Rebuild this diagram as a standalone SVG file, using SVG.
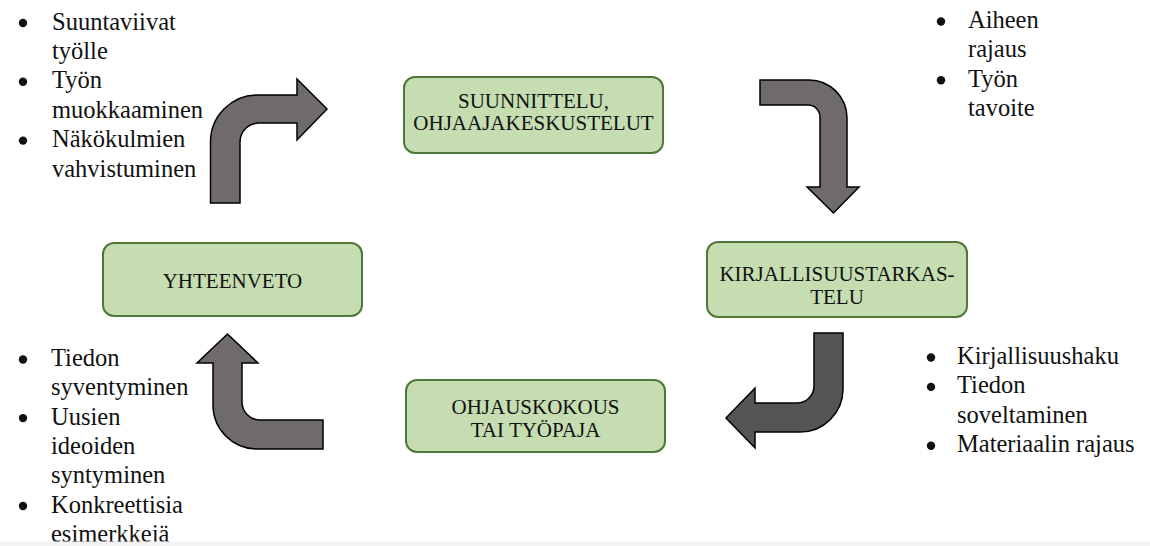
<svg xmlns="http://www.w3.org/2000/svg" width="1150" height="546" viewBox="0 0 1150 546">
<style>
.box{fill:#c5ddb1;stroke:#50773a;stroke-width:2}
.bt{font-family:"Liberation Serif","Times New Roman",serif;font-size:21px;fill:#111;text-anchor:middle}
.lt{font-family:"Liberation Serif","Times New Roman",serif;font-size:24.5px;fill:#111}
.arr{fill:#706b6b;stroke:#000;stroke-width:1.5;stroke-linejoin:miter}
.arrd{fill:#565454;stroke:#000;stroke-width:1.5}
.dot{fill:#111}
</style>
<rect width="1150" height="546" fill="#fff"/>

<g id="connectors">
<path class="arr" d="M 210.5 203 L 210.5 142 A 47 47 0 0 1 257.5 95 L 297 95 L 297 79 L 327 109 L 297 140 L 297 123 L 259 123 A 19 19 0 0 0 240 142 L 240 203 Z"/>
<path class="arr" d="M 760 80 L 809 80 A 38 38 0 0 1 847 118 L 847 187 L 859 187 L 833.5 213 L 807 187 L 820 187 L 820 117 A 12 12 0 0 0 808 105 L 760 105 Z"/>
<path class="arrd" d="M 814 333 L 843 333 L 843 389 A 43 43 0 0 1 800 432 L 755 432 L 755 448 L 726 418 L 755 388 L 755 403 L 797 403 A 17 17 0 0 0 814 386 Z"/>
<path class="arr" d="M 323 420 L 260 420 A 18 18 0 0 1 242 402 L 242 363 L 258 363 L 227.5 334 L 197 363 L 213 363 L 213 405 A 44 44 0 0 0 257 449 L 323 449 Z"/>
</g>

<g id="suunnittelu">
<rect class="box" x="404" y="77" width="259" height="76" rx="11"/>
<text class="bt" x="533.5" y="108">SUUNNITTELU,</text>
<text class="bt" x="533.5" y="130">OHJAAJAKESKUSTELUT</text>
</g>

<g id="kirjallisuustarkastelu">
<rect class="box" x="707" y="242" width="260" height="75" rx="11"/>
<text class="bt" x="837" y="281">KIRJALLISUUSTARKAS-</text>
<text class="bt" x="837" y="304">TELU</text>
</g>

<g id="ohjauskokous">
<rect class="box" x="406" y="380" width="259" height="72" rx="11"/>
<text class="bt" x="535.5" y="414">OHJAUSKOKOUS</text>
<text class="bt" x="535.5" y="437">TAI TYÖPAJA</text>
</g>

<g id="yhteenveto">
<rect class="box" x="103" y="243" width="259" height="73" rx="11"/>
<text class="bt" x="232.5" y="288">YHTEENVETO</text>
</g>

<g id="notes-top-left">
<circle class="dot" cx="23" cy="23" r="4.2"/>
<circle class="dot" cx="23" cy="81.8" r="4.2"/>
<circle class="dot" cx="23" cy="140.6" r="4.2"/>
<text class="lt" x="52" y="29.5">Suuntaviivat</text>
<text class="lt" x="52" y="58.9">työlle</text>
<text class="lt" x="52" y="88.3">Työn</text>
<text class="lt" x="52" y="117.7">muokkaaminen</text>
<text class="lt" x="52" y="147.1">Näkökulmien</text>
<text class="lt" x="52" y="176.5">vahvistuminen</text>
</g>

<g id="notes-top-right">
<circle class="dot" cx="941" cy="21.5" r="4.2"/>
<circle class="dot" cx="941" cy="80.3" r="4.2"/>
<text class="lt" x="968" y="28">Aiheen</text>
<text class="lt" x="968" y="57.4">rajaus</text>
<text class="lt" x="968" y="86.8">Työn</text>
<text class="lt" x="968" y="116.2">tavoite</text>
</g>

<g id="notes-bottom-right">
<circle class="dot" cx="931" cy="357.5" r="4.2"/>
<circle class="dot" cx="931" cy="386.9" r="4.2"/>
<circle class="dot" cx="931" cy="445.7" r="4.2"/>
<text class="lt" x="957" y="364">Kirjallisuushaku</text>
<text class="lt" x="957" y="393.4">Tiedon</text>
<text class="lt" x="957" y="422.8">soveltaminen</text>
<text class="lt" x="957" y="452.2">Materiaalin rajaus</text>
</g>

<g id="notes-bottom-left">
<circle class="dot" cx="23" cy="359.5" r="4.2"/>
<circle class="dot" cx="23" cy="418.1" r="4.2"/>
<circle class="dot" cx="23" cy="506" r="4.2"/>
<text class="lt" x="51" y="366">Tiedon</text>
<text class="lt" x="51" y="395.3">syventyminen</text>
<text class="lt" x="51" y="424.6">Uusien</text>
<text class="lt" x="51" y="453.9">ideoiden</text>
<text class="lt" x="51" y="483.2">syntyminen</text>
<text class="lt" x="51" y="512.5">Konkreettisia</text>
<text class="lt" x="51" y="541.8">esimerkkejä</text>
</g>
<rect x="0" y="541.5" width="1150" height="4.5" fill="#f3f3f3"/>
</svg>
